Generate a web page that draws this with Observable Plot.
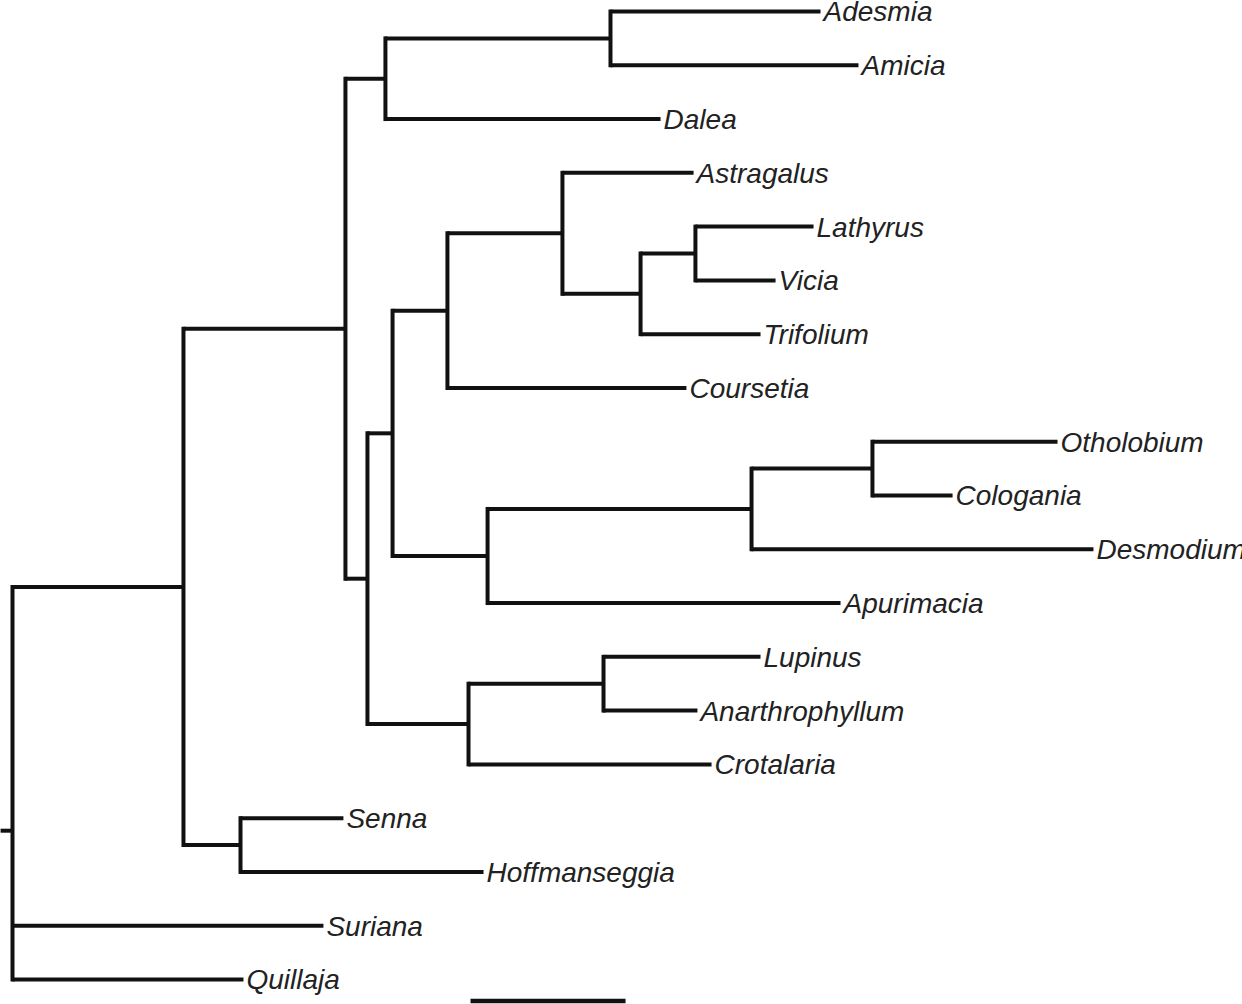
<!DOCTYPE html>
<html>
<head>
<meta charset="utf-8">
<script src="https://cdn.jsdelivr.net/npm/d3@7"></script>
<script src="https://cdn.jsdelivr.net/npm/@observablehq/plot@0.6"></script>
<style>
  html, body { margin: 0; padding: 0; background: #fff; }
  #chart svg { display: block; }
</style>
</head>
<body>
<div id="chart"></div>
<script>
// Internal nodes (clades): id, parent, depth (in scale-bar units from root)
const cladeIds     = ["root", "A", "B", "C", "AdAm", "D", "E", "F", "H", "I", "J", "G", "K", "L", "M", "N", "SH"];
const cladeParents = [null, "root", "A", "B", "C", "B", "D", "E", "F", "H", "I", "E", "G", "K", "D", "M", "A"];
const cladeDepths  = [0, 1.103, 2.148, 2.406, 3.858, 2.290, 2.452, 2.806, 3.548, 4.052, 4.406, 3.065, 4.768, 5.548, 2.942, 3.813, 1.471];

// Terminal taxa in plotting order (top to bottom)
const taxa = ["Adesmia", "Amicia", "Dalea", "Astragalus", "Lathyrus", "Vicia", "Trifolium", "Coursetia",
              "Otholobium", "Cologania", "Desmodium", "Apurimacia", "Lupinus", "Anarthrophyllum", "Crotalaria",
              "Senna", "Hoffmanseggia", "Suriana", "Quillaja"];
const taxonParents = ["AdAm", "AdAm", "C", "H", "J", "J", "I", "F",
                      "L", "L", "K", "G", "N", "N", "M",
                      "SH", "SH", "root", "root"];
const taxonDepths = [5.213, 5.458, 4.181, 4.394, 5.168, 4.923, 4.826, 4.348,
                     6.742, 6.065, 6.974, 5.342, 4.826, 4.419, 4.510,
                     2.135, 3.039, 2.006, 1.490];

const rootStem = 0.077;            // short stem to the left of the root
const scaleBar = [2.955, 3.955];   // scale bar: one unit of branch length
const scaleBarRow = 18.4;

// Build node table
const nodes = new Map();
cladeIds.forEach((id, i) => nodes.set(id, {id, parent: cladeParents[i], depth: cladeDepths[i], children: [], leaf: false}));
taxa.forEach((name, i) => nodes.set(name, {id: name, parent: taxonParents[i], depth: taxonDepths[i], children: [], leaf: true, y: i}));
for (const n of nodes.values()) if (n.parent) nodes.get(n.parent).children.push(n);

function yOf(n) {
  if (n.y !== undefined) return n.y;
  n.y = d3.mean(n.children, yOf);
  return n.y;
}
yOf(nodes.get("root"));

const horizontal = [];
const vertical = [];
for (const n of nodes.values()) {
  if (n.parent) {
    const p = nodes.get(n.parent);
    horizontal.push({x1: p.depth, x2: n.depth, y: n.y});
  } else {
    horizontal.push({x1: n.depth - rootStem, x2: n.depth, y: n.y});
  }
  if (n.children.length) {
    const ys = n.children.map(c => c.y);
    vertical.push({x: n.depth, y1: d3.min(ys), y2: d3.max(ys)});
  }
}
const leaves = [...nodes.values()].filter(n => n.leaf);

const chart = Plot.plot({
  width: 1242,
  height: 1004,
  margin: 0,
  x: {domain: [0, 7], range: [12, 12 + 7 * 155], axis: null},
  y: {domain: [0, 18], range: [11, 979], axis: null},
  marks: [
    Plot.link(horizontal, {x1: "x1", x2: "x2", y1: "y", y2: "y", stroke: "#111", strokeWidth: 4, strokeLinecap: "butt"}),
    Plot.link(vertical, {x1: "x", x2: "x", y1: "y1", y2: "y2", stroke: "#111", strokeWidth: 4, strokeLinecap: "square"}),
    Plot.text(leaves, {
      x: "depth", y: "y", text: "id",
      textAnchor: "start", dx: 3, dy: 1,
      fontSize: 28, fontStyle: "italic",
      fontFamily: "'Liberation Sans', Arial, Helvetica, sans-serif",
      fill: "#222"
    }),
    Plot.link([{x1: scaleBar[0], x2: scaleBar[1], y: scaleBarRow}], {x1: "x1", x2: "x2", y1: "y", y2: "y", stroke: "#111", strokeWidth: 4.5})
  ]
});
document.getElementById("chart").appendChild(chart);
</script>
</body>
</html>
